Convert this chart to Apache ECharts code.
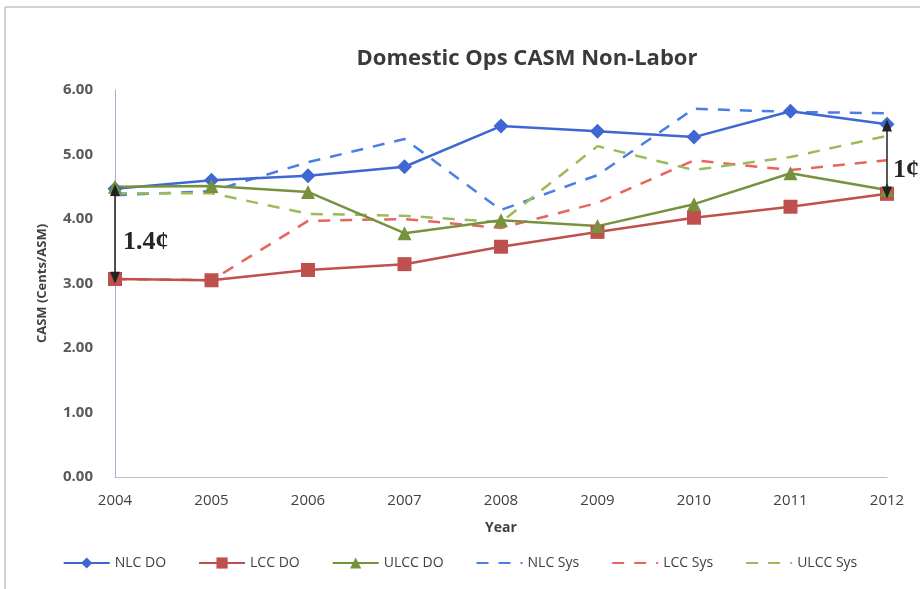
<!DOCTYPE html>
<html>
<head>
<meta charset="utf-8">
<script src="https://cdn.jsdelivr.net/npm/echarts@6/dist/echarts.min.js"></script>
<style>
  html, body { margin: 0; padding: 0; background: #fff; }
  #chart_id { width: 920px; height: 589px; }
</style>
</head>
<body>
<div id="chart_id"></div>
<script>
  // categories and values
  const years = ['2004', '2005', '2006', '2007', '2008', '2009', '2010', '2011', '2012'];
  const nlcDo = [4.47, 4.60, 4.67, 4.81, 5.44, 5.36, 5.27, 5.67, 5.47];
  const lccDo = [3.07, 3.05, 3.21, 3.30, 3.57, 3.80, 4.02, 4.19, 4.39];
  const ulccDo = [4.50, 4.51, 4.42, 3.78, 3.98, 3.89, 4.23, 4.71, 4.45];
  const nlcSys = [4.37, 4.43, 4.88, 5.24, 4.14, 4.68, 5.71, 5.66, 5.64];
  const lccSys = [3.07, 3.05, 3.97, 4.00, 3.86, 4.25, 4.91, 4.76, 4.91];
  const ulccSys = [4.40, 4.40, 4.08, 4.05, 3.95, 5.13, 4.76, 4.96, 5.29];
  const yTicks = [0, 1, 2, 3, 4, 5, 6];

  // gap annotations: [category index, top, bottom, text]
  const gapLeft = [0, 4.45, 3.09, '1.4¢'];
  const gapRight = [8, 5.45, 4.41, '1¢'];

  const font = "'Open Sans', 'Liberation Sans', sans-serif";

  const myChart = echarts.init(document.getElementById('chart_id'));

  function gapLine(g) {
    return [{ coord: [g[0], g[1]] }, { coord: [g[0], g[2]] }];
  }

  const option = {
    animation: false,
    backgroundColor: '#fff',
    title: {
      text: 'Domestic Ops CASM Non-Labor',
      left: 522,
      textAlign: 'center',
      top: 43,
      textStyle: {
        fontFamily: font,
        fontSize: 22,
        fontWeight: 'bold',
        color: '#3a3a3a',
      },
    },
    grid: {
      left: 115,
      right: 33,
      top: 90,
      bottom: 112,
    },
    legend: {
      bottom: 14,
      left: 'center',
      itemWidth: 46,
      itemHeight: 14,
      itemGap: 32,
      textStyle: {
        fontFamily: font,
        fontSize: 14,
        color: '#404040',
      },
      data: [
        'NLC DO', 'LCC DO', 'ULCC DO',
        { name: 'NLC Sys', itemStyle: { opacity: 0 } },
        { name: 'LCC Sys', itemStyle: { opacity: 0 } },
        { name: 'ULCC Sys', itemStyle: { opacity: 0 } },
      ],
    },
    xAxis: {
      type: 'category',
      data: years,
      boundaryGap: false,
      name: 'Year',
      nameLocation: 'middle',
      nameGap: 44,
      nameTextStyle: {
        fontFamily: font,
        fontSize: 14,
        fontWeight: 'bold',
        color: '#404040',
      },
      axisLine: { lineStyle: { color: '#bfbfbf' } },
      axisTick: { show: false },
      axisLabel: {
        margin: 16,
        fontFamily: font,
        fontSize: 15,
        color: '#404040',
      },
    },
    yAxis: {
      type: 'value',
      min: yTicks[0],
      max: yTicks[yTicks.length - 1],
      interval: 1,
      name: 'CASM (Cents/ASM)',
      nameLocation: 'middle',
      nameGap: 66,
      nameTextStyle: {
        fontFamily: font,
        fontSize: 13,
        fontWeight: 'bold',
        color: '#404040',
      },
      axisLine: { show: true, lineStyle: { color: '#b4a9d6' } },
      axisTick: { show: false },
      splitLine: { show: false },
      axisLabel: {
        margin: 22,
        fontFamily: font,
        fontSize: 15,
        fontWeight: 'bold',
        color: '#595959',
        formatter: (v) => v.toFixed(2),
      },
    },
    series: [
      {
        name: 'NLC Sys',
        type: 'line',
        data: nlcSys,
        symbol: 'none',
        color: '#4a7ee6',
        lineStyle: { width: 2.5, type: [12, 10], color: '#4a7ee6' },
        z: 2,
      },
      {
        name: 'LCC Sys',
        type: 'line',
        data: lccSys,
        symbol: 'none',
        color: '#e8655d',
        lineStyle: { width: 2.5, type: [12, 10], color: '#e8655d' },
        z: 2,
      },
      {
        name: 'ULCC Sys',
        type: 'line',
        data: ulccSys,
        symbol: 'none',
        color: '#9bbb59',
        lineStyle: { width: 2.5, type: [12, 10], color: '#9bbb59' },
        z: 2,
      },
      {
        name: 'NLC DO',
        type: 'line',
        data: nlcDo,
        symbol: 'diamond',
        symbolSize: 15,
        color: '#3f67d4',
        lineStyle: { width: 2.5, color: '#3f67d4' },
        itemStyle: { color: '#3f67d4' },
        z: 3,
      },
      {
        name: 'LCC DO',
        type: 'line',
        data: lccDo,
        symbol: 'rect',
        symbolSize: 14,
        color: '#c0504d',
        lineStyle: { width: 2.5, color: '#c0504d' },
        itemStyle: { color: '#c0504d' },
        z: 3,
      },
      {
        name: 'ULCC DO',
        type: 'line',
        data: ulccDo,
        symbol: 'triangle',
        symbolSize: 14,
        color: '#76923c',
        lineStyle: { width: 2.5, color: '#76923c' },
        itemStyle: { color: '#76923c' },
        z: 3,
        markLine: {
          silent: true,
          symbol: ['triangle', 'triangle'],
          symbolSize: [10, 12],
          label: { show: false },
          lineStyle: { color: '#222', width: 1.5, type: 'solid' },
          z: 5,
          data: [gapLine(gapLeft), gapLine(gapRight)],
        },
      },
    ],
  };

  myChart.setOption(option);

  // gap labels placed next to the arrows
  const pL = myChart.convertToPixel({ gridIndex: 0 }, [gapLeft[0], (gapLeft[1] + gapLeft[2]) / 2]);
  const pR = myChart.convertToPixel({ gridIndex: 0 }, [gapRight[0], (gapRight[1] + gapRight[2]) / 2]);
  myChart.setOption({
    graphic: [
      {
        type: 'text',
        x: pL[0] + 8,
        y: pL[1] + 8,
        style: {
          text: gapLeft[3],
          font: "bold 26px 'Liberation Serif', serif",
          fill: '#262626',
          verticalAlign: 'middle',
        },
        z: 10,
      },
      {
        type: 'text',
        x: pR[0] + 6,
        y: pR[1] + 11,
        style: {
          text: gapRight[3],
          font: "bold 26px 'Liberation Serif', serif",
          fill: '#262626',
          verticalAlign: 'middle',
        },
        z: 10,
      },
      {
        type: 'rect',
        shape: { x: 5, y: 7, width: 930, height: 600 },
        style: { fill: 'none', stroke: '#a6a6a6', lineWidth: 1 },
        silent: true,
      },
    ],
  });
  window.onresize = myChart.resize;
</script>
</body>
</html>
